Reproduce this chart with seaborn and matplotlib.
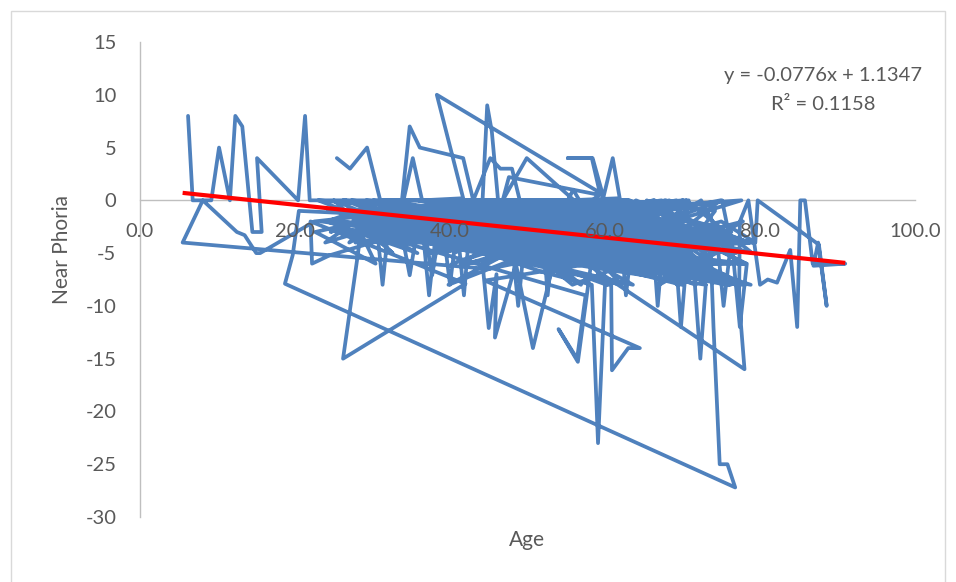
import matplotlib
matplotlib.use("Agg")
import matplotlib.pyplot as plt
from matplotlib.patches import Rectangle
import pandas as pd
import seaborn as sns

# ---- records, in the order they appear in the worksheet ----
age_1 = [6.2, 6.8, 9.2, 10.2, 11.6, 12.3, 13.2, 14.5, 15.7, 15.1, 20.4, 21.3, 21.9]
phoria_1 = [8, 0, 0, 5, 0, 8, 7, -3, -3, 4, 0, 8, 0]

age_2 = [52.3, 31.6, 67.1, 44.8, 58.4, 26.2, 72.5, 39.3, 61.7, 48.1, 35.4, 70.2, 55.8, 42.6, 63.3, 29.5, 50.9, 77.6, 37.2, 57.6,
         46.4, 66.8, 33.1, 59.5, 41.2, 71.7, 53.4, 27.3, 64.9, 45.2, 38.6, 69.4, 56.1, 30.8, 62.2, 49.7, 75.3, 43.5, 54.6, 34.9]
phoria_2 = [0, -2, -4, 0, -6, 0, -3, -1, -5, 0, -2, -4, -8, 0, -1, -3, -6, 0, -2, -4,
            0, -6, -1, -3, 0, -8, -2, 0, -4, -5, 0, -3, -6, -2, 0, -4, -7, 0, -5, -1]

age_3 = [22.5, 15.5, 15.0, 13.5, 12.5, 8.1, 5.5, 45.0]
phoria_3 = [-2, -5, -5, -3.3, -3, 0, -4, -6.5]

age_4 = [68.2, 47.5, 60.3, 36.7, 77.2, 51.1, 28.6, 65.5, 40.4, 57.2, 32.8, 70.6, 46.9, 61.4, 24.3, 55.5, 67.7, 39.8, 52.6, 44.1,
         59.2, 35.7, 72.1, 48.6, 63.8, 30.2, 56.6, 42.3, 69.9, 53.7, 37.5, 66.2, 45.6, 58.9, 25.4, 62.7, 50.2, 74.6, 41.8, 57.3]
phoria_4 = [-3, 0, -6, -2, -8, 0, -4, -1, 0, -5, -3, -6, 0, -2, -1, -4, 0, -8, -3, 0,
            -5, -1, -6, 0, -4, -2, 0, -3, -8, 0, -5, -2, 0, -6, -3, 0, -4, -7, 0, -2]

age_5 = [23.0, 33.5, 25.8, 35.8, 24.1, 31.9, 27.0, 34.6, 22.6, 30.4,
         26.5, 33.0, 23.9, 29.7, 35.0, 25.0, 32.6, 28.2, 34.1, 24.6]
phoria_5 = [0, -3, -1, -5, -2, 0, -4, -1, -3, -6,
            0, -2, -4, -1, -3, 0, -5, -2, 0, -3]

age_6 = [33.8, 34.8, 36.1, 41.7, 43.0, 34.0, 35.2, 36.4, 41.7, 38.3, 59.4, 57.0]
phoria_6 = [0, 7, 5, 4, 0, 0, 4, 0, 0.2, 10, 0.7, -1]

age_7 = [33.4, 64.3, 47.2, 71.3, 38.1, 55.2, 60.8, 29.1, 68.5, 43.9, 52.2, 76.2, 36.3, 61.1, 49.4, 65.8, 40.7, 54.3, 31.2, 70.9,
         46.1, 58.7, 23.4, 63.1, 51.6, 78.4, 39.6, 56.9, 44.4, 67.4, 34.2, 60.5, 48.3, 71.1, 27.8, 57.9, 42.1, 65.2, 53.1, 37.9]
phoria_7 = [-1, -4, 0, -6, -2, -5, 0, -3, -7, 0, -4, -8, -1, 0, -6, -3, 0, -5, -2, -4,
            0, -3, -2, -6, 0, -4, -1, -8, 0, -5, -2, 0, -6, -3, -4, 0, -2, -6, -5, 0]

age_8 = [44.2, 44.8, 45.4, 46.2, 43.0, 45.2, 46.5, 48.0, 49.0, 46.8, 49.9, 56.0,
         46.8, 47.6, 59.4, 58.3, 55.2, 58.4, 59.8, 61.0, 61.9, 55.2, 55.9, 56.7]
phoria_8 = [0, 9, 6.5, 0, 0, 4, 3, 3, 0, 0, 4, 0,
            0, 2.2, 0.5, 4, 4, 4, 0.3, 4, 0.2, 0, 1, 0]

age_9 = [62.5, 45.9, 75.7, 32.4, 59.7, 50.4, 68.8, 41.4, 55.1, 64.6, 28.3, 52.8, 70.4, 38.8, 61.9, 47.8, 66.5, 35.1, 57.1, 43.2,
         73.1, 49.2, 60.1, 26.7, 54.8, 69.2, 40.2, 63.6, 46.7, 58.2, 33.7, 77.9, 51.4, 44.3, 66.1, 30.5, 56.3, 62.9, 39.1, 48.8]
phoria_9 = [-4, 0, -8, -2, -5, 0, -3, -6, 0, -4, -1, -7, 0, -3, -5, 0, -6, -2, -4, 0,
            -6, -2, 0, -3, -5, 0, -4, -8, -1, 0, -2, -6, -4, 0, -3, -1, -6, 0, -5, -2]

age_10 = [20.5, 19.7, 18.7, 76.8, 75.8, 74.8, 74.0, 73.6, 71.5, 72.3, 73.0,
          28.5, 28.0, 26.2, 42.0, 22.0, 22.2, 24.5, 30.0]
phoria_10 = [-1, -5.2, -7.9, -27.2, -25, -25, -12, -4, -7, -15, -8,
             -3, -5.7, -15, -7.9, -2, -6, -5.2, -4]

age_11 = [67.3, 53.9, 36.1, 61.6, 45.3, 78.8, 42.8, 57.8, 29.8, 64.1, 50.6, 70.8, 34.6, 59.1, 47.4, 65.1, 38.3, 55.7, 71.5, 43.7,
          58.6, 32.1, 63.4, 48.4, 69.6, 24.8, 54.1, 66.4, 41.6, 60.2, 52.5, 76.9, 37.3, 57.4, 45.7, 68.1, 31.4, 62.4, 50.1, 44.6]
phoria_11 = [0, -4, -1, -6, 0, -8, -3, 0, -2, -5, -6, 0, -4, -2, 0, -7, -3, -1, -4, 0,
             -3, -1, -5, 0, -6, -2, -4, 0, -3, -8, 0, -5, -2, 0, -4, -6, -1, 0, -3, -6]

age_12 = [44.2, 45.0, 46.0, 45.8, 48.5, 50.7, 53.0, 58.3, 59.1, 60.0, 60.8, 60.9, 63.0, 64.5, 44.5,
          58.2, 56.5, 54.0, 56.4, 57.5, 34.0, 34.8, 35.5, 37.0, 37.7, 38.4, 39.5, 40.0, 40.5]
phoria_12 = [-6, -12.1, -7, -13, -6, -14, -7, -8, -23, -8, -8, -16.1, -14, -14, -7.6,
             -6, -15.3, -12.2, -15, -9, -4, -7.1, -4, -4, -7.1, -4, -5, -8, -5]

age_13 = [56.2, 71.9, 39.4, 65.6, 47.1, 59.8, 28.9, 53.2, 67.9, 42.4, 61.3, 35.9, 77.1, 49.1, 58.1, 46.3, 64.4, 33.2, 70.1, 51.8,
          60.6, 40.1, 55.4, 79.2, 44.7, 63.2, 36.4, 57.7, 68.3, 48.9, 25.9, 62.1, 52.4, 66.7, 38.4, 59.3, 45.1, 71.4, 54.4, 30.1]
phoria_13 = [0, -4, -2, -7, 0, -5, -1, -3, 0, -6, -2, 0, -8, -4, 0, -3, -5, -2, 0, -6,
             -2, 0, -5, -4, -1, 0, -3, -6, 0, -4, -2, -8, 0, -3, -1, 0, -5, -6, -2, 0]

age_14 = [36.5, 37.3, 38.2, 48.0, 48.8, 49.6, 62.0, 62.7, 63.5, 66.0, 66.8, 67.6, 69.0, 69.8,
          70.6, 52.0, 52.6, 53.4, 30.5, 31.3, 32.0, 41.0, 41.8, 42.6, 74.5, 75.3, 76.1]
phoria_14 = [-3, -9, -3, -4, -10, -4, -3, -9, -4, -2, -10, -3, -4, -12,
             -5, -3, -9, -3, -2, -8, -3, -3, -9, -2, -4, -10, -5]

age_15 = [72.4, 61.8, 77.8, 65.9, 70.0, 59.0, 75.9, 63.0, 78.6, 67.8, 73.9, 62.2, 76.3, 69.3, 60.9, 74.9, 66.2, 71.6, 64.0, 77.0,
          68.6, 73.0, 61.0, 75.5, 65.0, 70.5, 79.0, 63.9, 72.0, 58.5, 76.8, 67.0, 74.2, 62.4, 78.2, 69.7, 65.4, 71.2, 60.2, 75.1]
phoria_15 = [0, -5, -2, -7, 0, -3, -8, 0, -4, -1, -6, 0, -3, -8, -2, 0, -5, -7, 0, -4,
             -2, -8, 0, -3, -6, 0, -5, -2, -7, 0, -4, -8, -1, 0, -6, -3, 0, -7, -4, 0]

age_16 = [76.5, 77.4, 78.3, 58.0, 78.0, 77.3, 77.4, 78.5, 80.0, 81.0, 82.2, 83.9,
          84.8, 85.2, 85.8, 86.8, 91.0, 86.9, 87.5, 88.6, 87.6, 79.7, 79.4, 75.0]
phoria_16 = [-5, -12, -6, -6.2, -16, -9.5, -2, 0, -8, -7.5, -7.8, -4.7,
             -12, 0, 0, -6, -6, -6.2, -4, -10, -4.2, 0, -4, -2]

age_17 = [65.3, 43.1, 58.5, 50.3, 69.1, 34.4, 61.2, 47.3, 78.1, 55.6, 41.1, 64.7, 27.5, 56.4, 49.6, 67.2, 37.6, 60.4, 53.3, 46.6,
          72.7, 39.2, 62.3, 51.2, 66.3, 44.2, 57.5, 31.9, 68.7, 48.2, 59.4, 70.3, 42.2, 54.2, 63.7, 35.3, 58.3, 45.4, 77.5, 52.1,
          61.5, 47.6, 36.2, 64.2, 55.3, 70.7, 43.4, 58.8, 29.2, 66.9, 50.5, 62.6, 40.3, 57.2, 76.6, 46.2, 53.6, 68.4, 38.2, 60.7]
phoria_17 = [-4, -2, 0, -6, -3, -1, 0, -5, -8, 0, -3, -6, -1, 0, -4, -2, 0, -5, -3, 0,
             -6, 0, -4, -2, 0, -5, -3, -1, -7, 0, -4, -2, 0, -6, -3, -1, 0, -4, -8, -2,
             0, -3, -1, -5, 0, -6, -2, -4, 0, -3, -5, 0, -6, -2, -4, 0, -1, -5, -3, 0]

age_18 = [31.0, 29.3, 27.1, 25.4]
phoria_18 = [0, 5, 3, 4]

# Excel linear trendline reported on the chart
slope = -0.0776
intercept = 1.1347
r_squared = 0.1158

ages = [age_1, age_2, age_3, age_4, age_5, age_6, age_7, age_8, age_9,
        age_10, age_11, age_12, age_13, age_14, age_15, age_16, age_17, age_18]
phorias = [phoria_1, phoria_2, phoria_3, phoria_4, phoria_5, phoria_6, phoria_7, phoria_8, phoria_9,
           phoria_10, phoria_11, phoria_12, phoria_13, phoria_14, phoria_15, phoria_16, phoria_17, phoria_18]
age, phoria = [], []
for a, p in zip(ages, phorias):
    assert len(a) == len(p)
    age += a
    phoria += p

df = pd.DataFrame({"Age": age, "Near Phoria": phoria})

x_ticks = [0, 20, 40, 60, 80, 100]
y_ticks = [-30, -25, -20, -15, -10, -5, 0, 5, 10, 15]

sns.set_theme(style="white")
plt.rcParams["font.family"] = ["Lato", "DejaVu Sans"]

W, H = 956, 582
fig = plt.figure(figsize=(W / 100, H / 100), dpi=100)
ax = fig.add_axes([140 / W, 1 - 517 / H, (915 - 140) / W, (517 - 42) / H])

sns.lineplot(data=df, x="Age", y="Near Phoria", sort=False, estimator=None,
             color="#4F81BD", lw=2.7, ax=ax, zorder=2,
             solid_joinstyle="round", solid_capstyle="round")

trend = pd.DataFrame({"Age": [min(age), max(age)]})
trend["fit"] = slope * trend["Age"] + intercept
sns.lineplot(data=trend, x="Age", y="fit", color="#FF0000", lw=3.0, ax=ax,
             zorder=4, solid_capstyle="butt")

ax.set_xlim(0, 100)
ax.set_ylim(-30, 15)
ax.set_xticks(x_ticks)
ax.set_xticklabels([f"{v:.1f}" for v in x_ticks])
ax.set_yticks(y_ticks)
ax.set_yticklabels([str(v) for v in y_ticks])
ax.set_xlabel("")
ax.set_ylabel("")

for side in ("top", "right"):
    ax.spines[side].set_visible(False)
ax.spines["bottom"].set_position(("data", 0))
for side in ("left", "bottom"):
    ax.spines[side].set_color("#BFBFBF")
    ax.spines[side].set_linewidth(1.0)
    ax.spines[side].set_zorder(1)

ax.tick_params(axis="x", length=0, pad=16, labelsize=14.5, labelcolor="#595959")
ax.tick_params(axis="y", length=0, pad=17, labelsize=14.5, labelcolor="#595959")
ax.xaxis.set_zorder(5)
ax.yaxis.set_zorder(5)
ax.patch.set_alpha(0)

fig.text(527 / W, 1 - 540 / H, "Age", ha="center", va="center",
         fontsize=15, color="#595959")
fig.text(62 / W, 1 - 250 / H, "Near Phoria", ha="center", va="center",
         rotation=90, fontsize=15, color="#595959")

fig.text(823 / W, 1 - 75 / H, f"y = {slope:.4f}x + {intercept:.4f}",
         ha="center", va="center", fontsize=14.5, color="#595959")
fig.text(823 / W, 1 - 104 / H, f"R² = {r_squared:.4f}",
         ha="center", va="center", fontsize=14.5, color="#595959")

fig.patches.append(Rectangle((11 / W, -0.05), (945 - 11) / W, 1 - 11 / H + 0.05,
                             transform=fig.transFigure, fill=False,
                             edgecolor="#D9D9D9", lw=1.0))

fig.savefig("out.png", dpi=100)
